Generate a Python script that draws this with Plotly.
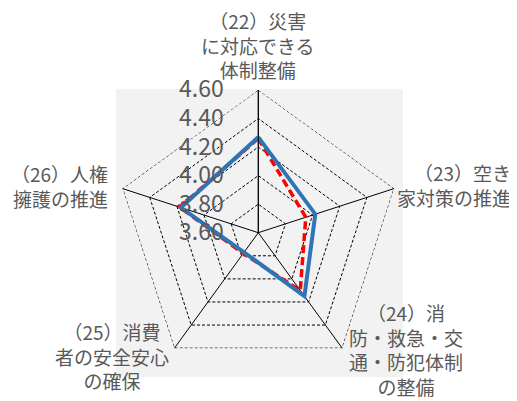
import plotly.graph_objects as go

categories = [
    "（22）災害<br>に対応できる<br>体制整備",
    "（23）空き<br>家対策の推進",
    "（24）消<br>防・救急・交<br>通・防犯体制<br>の整備",
    "（25）消費<br>者の安全安心<br>の確保",
    "（26）人権<br>擁護の推進",
]
axis_keys = ["22", "23", "24", "25", "26"]
series_red = [4.26, 3.95, 4.10, 3.78, 4.18]
series_blue = [4.27, 4.02, 4.15, 3.77, 4.17]
radial_ticks = [3.6, 3.8, 4.0, 4.2, 4.4, 4.6]
radial_ticktext = ["3.60", "3.80", "4.00", "4.20", "4.40", "4.60"]

# the page body has an 8px margin, so work in page pixels and shift
OFF = 8
W, H = 517 - OFF, 401 - OFF
GRAY = "#595959"
FONT = "Noto Sans CJK JP"

# polar centre / radius in page pixels
cx, cy, rad = 258.3, 232.7, 142.7


def px_x(x):
    return (x - OFF) / W


def px_y(y):
    return 1 - (y - OFF) / H


fig = go.Figure()

# outer ring: plotly skips the grid line at the range end, so draw it dashed
outer = [radial_ticks[-1]] * (len(axis_keys) + 1)
fig.add_trace(
    go.Scatterpolar(
        r=outer,
        theta=axis_keys + axis_keys[:1],
        mode="lines",
        line=dict(color="black", width=1, dash="3px,2px"),
        showlegend=False,
        hoverinfo="skip",
    )
)

for vals, color, dash, width in [
    (series_red, "#ff0000", "8px,4px", 3.5),
    (series_blue, "#2e75b6", "solid", 4),
]:
    fig.add_trace(
        go.Scatterpolar(
            r=vals + vals[:1],
            theta=axis_keys + axis_keys[:1],
            mode="lines",
            line=dict(color=color, width=width, dash=dash),
            showlegend=False,
            hoverinfo="skip",
        )
    )

fig.update_layout(
    width=W,
    height=H,
    margin=dict(l=0, r=0, t=0, b=0),
    paper_bgcolor="white",
    font=dict(family=FONT, color=GRAY),
    polar=dict(
        domain=dict(x=[px_x(cx - rad), px_x(cx + rad)], y=[px_y(cy + rad), px_y(cy - rad)]),
        bgcolor="rgba(0,0,0,0)",
        gridshape="linear",
        angularaxis=dict(
            rotation=90,
            direction="clockwise",
            categoryarray=axis_keys,
            showticklabels=False,
            ticks="",
            showline=False,
            gridcolor="black",
            gridwidth=1,
        ),
        radialaxis=dict(
            range=[3.6, 4.6],
            angle=90,
            tickangle=90,
            side="counterclockwise",
            tickvals=radial_ticks,
            ticktext=radial_ticktext,
            tickfont=dict(size=23, color=GRAY, family=FONT),
            ticks="outside",
            ticklen=26,
            tickcolor="rgba(0,0,0,0)",
            showline=True,
            linecolor="black",
            linewidth=1,
            gridcolor="black",
            gridwidth=1,
            griddash="3px,2px",
        ),
    ),
    shapes=[
        dict(
            type="rect", xref="paper", yref="paper", layer="below",
            x0=px_x(116), x1=px_x(403), y0=px_y(377), y1=px_y(89),
            fillcolor="#f2f2f2", line=dict(width=0),
        )
    ],
)

label_pos = [
    (258, 45, "center", "center"),
    (513, 185, "right", "right"),
    (406, 349, "center", "center"),
    (112, 356, "center", "center"),
    (110, 186, "right", "right"),
]
for text, (x, y, xa, al) in zip(categories, label_pos):
    fig.add_annotation(
        x=px_x(x), y=px_y(y), xref="paper", yref="paper",
        text=text, showarrow=False, xanchor=xa, yanchor="middle", align=al,
        font=dict(size=19, color=GRAY, family=FONT),
    )

fig.write_html("out.html")
